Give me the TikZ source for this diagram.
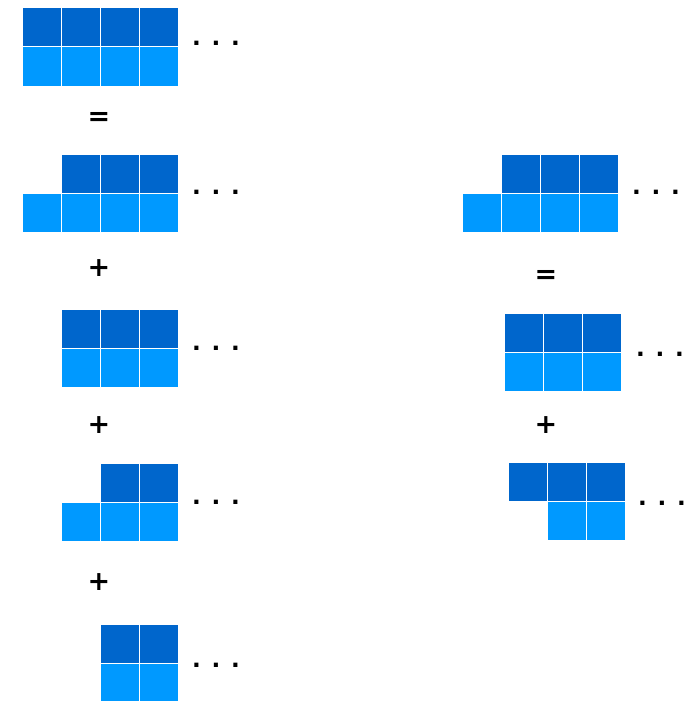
\documentclass[tikz,border=0pt]{standalone}
\usepackage{fontspec}
\setmainfont{DejaVu Sans}
\newfontfamily\boldsans{DejaVu Sans Bold}
\definecolor{dk}{HTML}{0066CC}
\definecolor{lt}{HTML}{0099FF}
\tikzset{
  dkcell/.style={fill=dk,draw=white,line width=1pt},
  ltcell/.style={fill=lt,draw=white,line width=1pt},
  dots/.style={font=\boldsans\fontsize{23}{23}\selectfont,inner sep=0pt,anchor=center},
  op/.style={font=\boldsans\fontsize{27}{27}\selectfont,inner sep=0pt,anchor=center}
}
\newcommand{\dkrow}[2]{\foreach \xx in {#2} {\path[dkcell] (\xx,#1) rectangle ++(39,39);}}
\newcommand{\ltrow}[2]{\foreach \xx in {#2} {\path[ltcell] (\xx,#1) rectangle ++(39,39);}}
\begin{document}
\begin{tikzpicture}[x=1pt,y=-1pt]
\useasboundingbox (0,0) rectangle (691,701);
% Left column
\dkrow{8}{22,61,100,139}
\ltrow{47}{22,61,100,139}
\node[dots] (d1) at (216,43) {. . .};
\node[op] (eq1) at (99,119) {=};
\dkrow{154}{61,100,139}
\ltrow{193}{22,61,100,139}
\node[dots] (d2) at (216,192) {. . .};
\node[op] (p1) at (99,268) {+};
\dkrow{309}{61,100,139}
\ltrow{348}{61,100,139}
\node[dots] (d3) at (216,348) {. . .};
\node[op] (p2) at (99,425) {+};
\dkrow{463}{100,139}
\ltrow{502}{61,100,139}
\node[dots] (d4) at (216,502) {. . .};
\node[op] (p3) at (99,582) {+};
\dkrow{624}{100,139}
\ltrow{663}{100,139}
\node[dots] (d5) at (216,665) {. . .};
% Right column
\dkrow{154}{501,540,579}
\ltrow{193}{462,501,540,579}
\node[dots] (d6) at (656,192) {. . .};
\node[op] (eq2) at (546,277) {=};
\dkrow{313}{504,543,582}
\ltrow{352}{504,543,582}
\node[dots] (d7) at (660,354) {. . .};
\node[op] (p4) at (546,425) {+};
\dkrow{462}{508,547,586}
\ltrow{501}{547,586}
\node[dots] (d8) at (662,503) {. . .};
\end{tikzpicture}
\end{document}
